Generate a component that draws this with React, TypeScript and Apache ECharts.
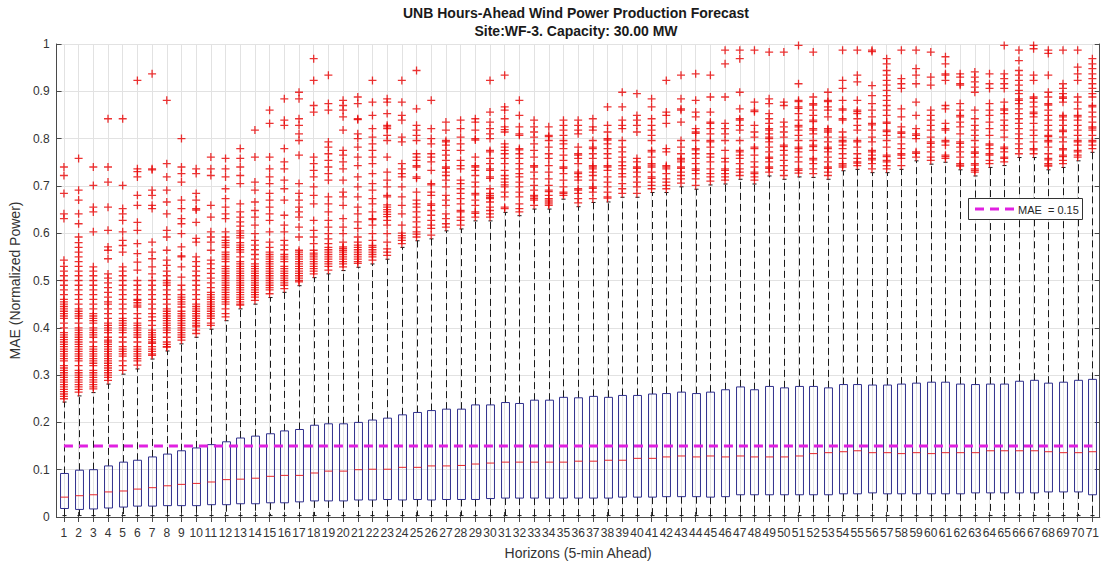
import React, { useEffect, useRef } from "react";
import * as echarts from "echarts";

const FONT = "'Liberation Sans', Arial, Helvetica, sans-serif";

const horizons: string[] = Array.from({ length: 71 }, (_, i) => String(i + 1));
const yTicks = [0, 0.1, 0.2, 0.3, 0.4, 0.5, 0.6, 0.7, 0.8, 0.9, 1];
const MAE_LEVEL = 0.15;

const q1 = [
  0.018, 0.016, 0.017, 0.019, 0.021, 0.023, 0.023, 0.024, 0.024, 0.024,
  0.026, 0.026, 0.028, 0.028, 0.030, 0.030, 0.032, 0.034, 0.034, 0.034,
  0.036, 0.036, 0.037, 0.036, 0.037, 0.036, 0.037, 0.037, 0.037, 0.039,
  0.040, 0.040, 0.040, 0.040, 0.040, 0.040, 0.040, 0.040, 0.042, 0.042,
  0.042, 0.043, 0.043, 0.043, 0.042, 0.043, 0.047, 0.047, 0.047, 0.047,
  0.047, 0.047, 0.047, 0.049, 0.049, 0.051, 0.049, 0.049, 0.049, 0.049,
  0.049, 0.049, 0.051, 0.051, 0.051, 0.051, 0.051, 0.053, 0.053, 0.053,
  0.047,
];
const median = [
  0.042, 0.045, 0.047, 0.053, 0.055, 0.059, 0.062, 0.066, 0.069, 0.071,
  0.074, 0.079, 0.080, 0.082, 0.086, 0.088, 0.088, 0.093, 0.097, 0.097,
  0.100, 0.101, 0.101, 0.105, 0.105, 0.108, 0.108, 0.109, 0.112, 0.114,
  0.116, 0.116, 0.116, 0.116, 0.116, 0.118, 0.118, 0.120, 0.120, 0.124,
  0.124, 0.127, 0.129, 0.127, 0.129, 0.127, 0.129, 0.127, 0.127, 0.127,
  0.129, 0.134, 0.136, 0.138, 0.140, 0.136, 0.136, 0.134, 0.136, 0.134,
  0.136, 0.136, 0.136, 0.140, 0.140, 0.140, 0.140, 0.138, 0.136, 0.136,
  0.138,
];
const q3 = [
  0.092, 0.099, 0.100, 0.108, 0.116, 0.120, 0.127, 0.133, 0.140, 0.146,
  0.153, 0.159, 0.167, 0.171, 0.176, 0.182, 0.185, 0.194, 0.197, 0.197,
  0.200, 0.205, 0.209, 0.216, 0.221, 0.225, 0.228, 0.228, 0.237, 0.237,
  0.242, 0.240, 0.247, 0.247, 0.253, 0.252, 0.255, 0.253, 0.257, 0.257,
  0.260, 0.261, 0.264, 0.261, 0.264, 0.269, 0.275, 0.269, 0.276, 0.273,
  0.276, 0.276, 0.273, 0.280, 0.280, 0.279, 0.279, 0.281, 0.283, 0.285,
  0.285, 0.281, 0.280, 0.281, 0.281, 0.287, 0.289, 0.283, 0.285, 0.289,
  0.291,
];
const lowerWhisker = [
  0.003, 0.003, 0.003, 0.003, 0.003, 0.003, 0.003, 0.003, 0.003, 0.003,
  0.003, 0.003, 0.003, 0.003, 0.003, 0.003, 0.003, 0.003, 0.003, 0.003,
  0.003, 0.003, 0.003, 0.003, 0.003, 0.003, 0.003, 0.003, 0.003, 0.003,
  0.003, 0.003, 0.003, 0.003, 0.003, 0.003, 0.003, 0.003, 0.003, 0.003,
  0.003, 0.003, 0.003, 0.003, 0.003, 0.003, 0.003, 0.003, 0.003, 0.003,
  0.003, 0.003, 0.003, 0.003, 0.003, 0.003, 0.003, 0.003, 0.003, 0.003,
  0.003, 0.003, 0.003, 0.003, 0.003, 0.003, 0.003, 0.003, 0.003, 0.003,
  0.003,
];
const upperWhisker = [
  0.243, 0.256, 0.263, 0.281, 0.302, 0.313, 0.334, 0.351, 0.366, 0.380,
  0.397, 0.415, 0.440, 0.450, 0.464, 0.475, 0.489, 0.506, 0.514, 0.521,
  0.528, 0.535, 0.545, 0.570, 0.584, 0.588, 0.605, 0.609, 0.626, 0.626,
  0.644, 0.637, 0.651, 0.651, 0.672, 0.656, 0.665, 0.666, 0.676, 0.676,
  0.686, 0.686, 0.698, 0.693, 0.702, 0.704, 0.714, 0.704, 0.721, 0.714,
  0.719, 0.718, 0.714, 0.732, 0.735, 0.728, 0.728, 0.735, 0.753, 0.746,
  0.750, 0.734, 0.721, 0.739, 0.743, 0.760, 0.760, 0.734, 0.739, 0.753,
  0.771,
];

// outliers per horizon, in hundredths of normalized power
const outliers: string[] = [
  "74 72.2 68.4 64.1 63.1 54.3 53 52 51 50 49 48 47 46 45.5 45 44.5 44 43.5 43 42.5 42 41 40 39 38.5 38 37.5 37 36.5 36 35.5 35 34.5 34 33.5 33 32 31.5 31 30.5 30 29.5 29 28.5 28 27.5 27 26.5 26 25.5 25",
  "75.8 69.1 67 64.1 62 59.2 58 57 56 55 54 53 52 51 50 49 48 47 46 45 44 43.5 43 42.5 42 41 40 39.5 39 38.5 38 37.5 37 36.5 36 35.5 35 34.5 34 33.5 33 32 31 30.5 30 29.5 29 28.5 28 27.5 27 26.4",
  "74 70.1 65.5 64.5 60.3 52.9 52 51 50 49 48 47 46 45 44 43 42.5 42 41.5 41 40 39.5 39 38.5 38 37 36 35.5 35 34.5 34 33.5 33 32.5 32 31 30.5 30 29.5 29 28.5 28 27.5 27.1",
  "84.2 74 70.8 65.5 60.6 57.1 56.4 54.6 51.4 50.5 49.5 48.5 47.5 46.5 45.5 45 44 43 42 41 40.5 40 39.5 39 38 37.4 37 36.5 36 35.5 35 34.5 34 33.5 33 32.5 32 31.5 31 30.5 30 29.5 28.9",
  "84.2 70.1 65.2 64.1 62.7 60.3 58.5 57.4 56 52.9 52 51 50 49 48 47 46 45 44 43 42 41.5 41 40.5 40 39.5 39 38 37 36 35.5 35 34.5 34 33 32 31",
  "92.3 73.6 73 71.9 68 65.9 62.3 60.6 57.8 55.7 53.9 52.2 50 49 48 47 46 45.8 45.3 44.8 44.4 43 42 41 40.5 40 39.5 39 38.5 38 37 36 35.5 35 34.5 34 33.5 33 32.1",
  "93.7 73.6 73.4 69.1 68 65.9 65.2 58.1 56 54.6 52.9 51.4 50 49 48 47 46 45 44 43 42.3 41.5 40.5 39.5 39 38.5 38 37.5 37 36.7 36 35.5 35 34.5 34.2",
  "88.1 74.7 71.9 69.1 66.6 64.1 60.6 59.2 56.4 54.3 53.2 52 51 50 49.5 49 48 47 46 45 44 43.5 43 42.5 42 41.5 41 40.5 40 39.5 39 38 37 36.5 36 35.9",
  "80 74 72.6 70.8 67 65.2 63.1 62 59.9 57.1 55.2 55 52.9 50.7 49 48 47 46.5 46 45.5 45 44.4 43.5 43 42.5 42 41.5 41 40.5 40 39.5 39 38.5 38 37.4",
  "73.6 72.6 68.4 67 65.2 64.9 62.3 58.9 58.1 55 54 53 52 51 50 49 48 47 46 45 44.5 44 43.5 43 42.5 42 41.5 41 40.5 40.2 39.5 38.8",
  "76.1 73.6 72.2 65.9 63.4 60.3 59.2 58.1 56.4 54.3 53.5 52.5 51.5 50.5 49.5 48.5 47.5 47 46.5 46 45.5 45 44.5 44 43.5 43 42.5 42 41 40.5",
  "75.8 73.6 71.9 69.4 67.3 65.5 64.1 63.1 60.3 59.2 58.5 58 57.5 57 56 55.5 55 54.5 54 53 52.5 52 51.5 51 50.5 50 49.5 49 48.5 48 47.5 47 46.5 46 45.5 45 44 43 42.3",
  "77.9 75.8 74 72.2 70.5 66.2 64.5 63.4 62.4 61.5 60.5 60 59.5 59 58 57.5 57 56.5 56 55 54 53.5 53 52.5 52 51.5 51 50.5 50 49.5 49 48.5 48 47.5 47 46.5 46 45.5 45 44.8",
  "81.8 76.1 70.8 69.1 66.6 64.8 63.4 61.7 59.9 58.5 57.5 56.5 55.5 54.5 53.5 53 52.5 52 51.5 51 50.5 50 49.5 49 48.5 48 47.5 47 46.5 45.8",
  "86 83.2 76.1 73.6 71.9 70.5 68.4 67 65.5 64.1 62.7 60.3 58.1 57 56 55.5 55 54.5 54 53.5 53 52.5 52 51.5 51 50.5 50 49.5 49 48.5 48 47.2",
  "88.4 83.9 82.8 77.9 75.1 73.6 71.2 69.4 67 63.8 61.7 60.3 58.5 57.5 56.5 55.5 55 54.5 54 53 52.5 52 51.5 51 50.5 50 49.5 49 48.3",
  "89.8 88.4 84.2 82.8 81 79.6 76.5 70.5 68.4 67 65.5 64.5 63.4 61.3 59.2 56.4 56 55.5 55 54.5 54 53.5 53 52.5 52 51.5 51 50.5 50 49.7",
  "96.9 92.3 87 85.6 76.1 74.7 73.3 71.9 69.8 68 66.2 62.7 60.6 59.2 57.8 56.4 55.8 55.4 55 54.5 54 53.5 53 52.5 52 51.4",
  "93.4 87.4 86 79.3 78.2 76.8 75.4 74 72.6 71.2 67.7 66.2 64.5 62.7 61.3 59.9 58.8 57.8 57 56.5 56 55.5 55 54.5 54 53.5 53 52.2",
  "88.1 87 86 84.6 81.8 77.5 76.5 75.1 73.6 71.2 68.7 67.7 65.9 63.1 61.3 59.9 58.1 57.1 56.8 56.4 56 55.5 55 54.5 54 53.5 52.9",
  "88.8 87.4 84.2 84 81 80 78.2 76.1 74.3 71.9 69.8 67.7 65.5 64.1 62.4 61 59.2 58.1 57.5 57 56.5 56 55.5 55 54.5 54 53.6",
  "92.3 87.7 84.9 82.1 80.3 78.9 77.5 76.1 74.7 72.6 70.5 69.1 67.3 66.2 64.5 63.1 62.9 61.7 59.9 58.5 57.4 57 56.5 56 55.5 55 54.3",
  "88.4 87.7 85.3 82.8 82.5 82.1 80.7 79.6 76.1 72.9 71.2 69.8 68 67.7 66 65.5 65 64.5 64 63.5 62.7 61.7 59.9 58.1 56.7 56 55.3",
  "92.3 87.7 84.9 83.9 80.3 79.3 74.7 73.6 72.6 71.9 69.8 67.7 65.9 64.1 61.7 60 59.5 59 58.5 57.8",
  "94.4 86.3 82.8 81.8 80.7 79.6 76.8 76.1 75.4 74.3 74 71.9 71.6 68.7 67 66.2 65.5 64.5 63.4 62.4 61.3 60.3 59.8 59.2",
  "88.1 82.1 80 78.9 76.8 76.1 75.1 73.3 70.5 70.2 68.7 68 66.2 65.9 64.8 63.8 62.7 61.7 61 59.6",
  "83.5 81.8 79.6 79.3 78.6 77.5 76.5 75.4 74 73.7 72.9 72.2 71.2 69.8 68 67 65.9 64.1 63.1 62 61.3",
  "83.9 82.1 80.3 78.9 77.5 75.4 74.3 73.6 71.2 70.5 69.4 68.4 67.3 66.2 64.8 64.5 63.4 62.7 61.7",
  "84.2 83.5 81.8 80 79.7 76.1 74.3 74 73.3 72.2 70.8 69.8 68.4 68.1 67 65.9 64.5 64.2 63.4",
  "92.3 85.6 83.5 82.1 81 80 77.5 77.2 75.8 74.7 73.6 73.3 71.9 71.6 69.4 68.4 68 67.6 67.3 66.6 65.5 64.8 64.1 63.4",
  "93.4 86.7 86 84.2 82.5 81.9 81.4 78.9 78.2 77.5 76.8 75.8 74.7 73.3 72.2 71.5 70.8 70.2 69.8 68.7 67.7 65.5 65.2",
  "88.1 84.9 82.5 81 80.7 77.9 77.6 76.8 75.8 74.7 73.6 72.6 71.9 70.8 69.8 68.7 67.7 66.2 65.2 64.5",
  "83.9 82.5 81.4 80.3 78.9 77.5 76.1 74.3 74 72.9 71.5 70.1 69.1 68 67.7 67.3 67 65.9",
  "82.5 80.7 80.4 79.6 78.2 76.8 75.8 74.3 72.9 71.5 70.1 69.1 68.8 68 67.3 67 66.6 66.2 65.9",
  "83.9 82.8 81.8 80.7 79.6 78.9 77.9 76.5 75.4 74 73.7 72.6 71.2 69.8 68.7 68.4 68",
  "83.9 82.8 81.8 81 78.2 76.8 76.5 75.8 74.7 72.9 72.6 71.9 71.2 69.4 69.1 68.4 67.3 66.4",
  "84.2 82.5 81.8 79.6 78.2 77.9 76.8 75.8 74.3 74 73.6 72.9 72.2 71.2 69.8 69.5 68.7 67.3",
  "86.7 82.8 81.4 80 79.7 78.9 77.9 76.8 75.8 74.3 74 73.3 71.9 70.8 69.8 68.7 67.7 67.4",
  "89.8 86.7 83.9 82.8 82.1 79.6 78.2 77.2 76.1 75.1 74.3 73.6 72.6 71.9 70.5 69.4 68.4",
  "89.5 84.9 83.9 82.8 81.4 75.8 75.1 74 73.7 72.9 71.9 70.8 69.8 68.4",
  "88.4 86.7 84.2 82.8 81.8 80.7 79.6 77.5 77.2 76.1 74.7 74.4 74 72.9 71.9 71.6 70.8 70.1 69.4",
  "92.3 85.6 84.9 83.2 77.9 77.2 74.3 74 73.6 72.6 71.5 70.8 70.1 69.4",
  "93.4 88.4 86.3 86 83.5 79.6 78.2 76.8 75.8 75.5 75.1 74 73.7 72.9 72.2 71.5 70.6",
  "93.7 88.1 85.6 84.6 82.1 81.4 81.1 79.6 77.9 77.6 76.8 75.8 74.7 73.6 73.3 72.6 71.5 70.1",
  "93.4 88.8 85.6 83.5 83.2 82.1 81 79.6 79.3 78.2 76.8 76.1 75.1 73.6 72.6 71.9 71",
  "98.7 95.8 88.8 83.2 82.1 81 79.6 77.5 75.8 75.1 73.6 73.3 72.6 71.9 71.2",
  "98.7 96.9 89.8 86.3 84.2 83.9 82.8 81.8 79.6 77.5 77.2 76.5 75.8 74.7 73.6 72.9 72.2",
  "98.7 87.7 86 85.7 82.8 81.4 80.3 78.2 77.9 76.5 75.1 74 72.9 72.6 71.9 71.2",
  "98.3 88.4 87.4 85.3 84.2 83.2 82.1 81.8 81 80.3 80 79.3 78.2 77.2 76.1 75.8 75.1 74 73.7 72.9",
  "98.3 87.7 87 83.5 82.5 81.4 80.3 78.6 78.3 77.5 76.5 75.4 74.3 73.3 72.2",
  "99.7 91.6 88.1 87.8 86.7 86.4 85.3 83.9 82.8 82.5 81.8 80.7 79.6 78.2 77.9 77.2 76.1 75.1 73.6 73.3 72.7",
  "98.3 88.8 87.4 87.1 86 84.9 83.9 83.6 82.1 81.8 81 79.6 78.6 78.3 77.5 75.8 75.5 74.7 73.6 72.6",
  "89.8 88.1 87.8 86.7 86 84.6 82.1 81.8 81.4 80.3 79.3 78.2 77.9 77.2 76.1 75.1 74 73.7 72.9 72.2",
  "98.7 92.3 90.6 88.1 86.3 86 84.2 83.9 81.4 80.3 79.6 79.3 78.6 77.9 76.8 75.8 74.7 74.4 74",
  "98.7 93.4 92 88.1 86 85.7 85.3 84.2 82.8 81.8 79.6 79.3 78.2 76.8 75.8 75.1 74.8 74.3",
  "98.7 98.4 91.2 89.1 87.4 86 84.6 83.2 82.9 81.8 80.3 79.3 77.5 77.2 76.5 75.8 75.5 74.7 73.6",
  "96.9 95.8 94.4 93.4 92.3 91.3 90.2 89.1 88.1 87 86 84.9 83.5 83.2 81.8 81.5 80.7 79.6 78.2 76.5 76.2 75.4 75.1 74.3 73.6",
  "98.7 92.7 91.6 90.6 86.3 84.6 82.5 81.4 81.1 80.3 78.9 77.9 76.8 76.5 75.8 74.3",
  "98.7 94.8 93.4 91.6 87.7 84.9 82.1 81 80.7 80 77.2 76.9 76.1",
  "98.3 93 91.3 86 84.9 83.9 82.8 81.8 80.3 79.3 79 78.2 77.2 76.1 75.4",
  "97.3 95.8 93.7 93.4 92.3 87 86.3 83.2 82.1 81.8 79.6 79.3 78.6 76.5 76.2 75.8",
  "93.7 93 91.6 91.3 87.4 86 84.9 84.6 83.5 82.5 81 79.3 79 78.2 77.2 76.1 74.7 74.4 74.2",
  "94.1 93 92 90.9 89.8 86 84.2 82.8 81.8 80.7 79.6 78.2 77.2 76.9 76.1 74.7 74.4 73.6 73.3 72.9",
  "93.7 91.6 90.6 87.4 86 84.9 83.5 82.1 80.7 78.9 78.6 77.9 76.8 76.5 75.4 74.7",
  "99.7 93.7 92.7 91.6 90.6 87.7 86.3 86 85.3 83.9 82.8 81.8 80.3 78.2 77.9 77.2 76.1 75.8 75.1",
  "98.7 96.5 94.4 93.4 92.3 91.3 90.2 89.5 88.4 88.1 87.4 86.3 85.3 84.2 83.2 82.1 81 80 78.9 77.9 76.8",
  "99.7 99 93.4 92.3 88.8 88.5 87.7 86.7 85.6 85.3 84.6 83.2 81.8 80.7 79.3 77.9 77.6 76.8",
  "98.7 98 93.4 89.8 88.8 87.4 87.1 86 84.9 83.9 82.8 81.8 80.7 80.4 79.6 79.3 78.2 76.8 75.8 75.5 74.7 74.4 74.2",
  "98.7 91.6 90.6 89.5 88.8 88.5 87.7 84.9 84.6 83.9 82.8 81.8 81.5 80.3 79.3 77.9 77.6 76.5 76.2 75.4 74.7",
  "98.7 95.1 93.7 92.3 88.8 87.7 86.3 84.9 84.6 83.9 82.8 81.8 80.7 79.6 79.3 78.6 77.5 77.2 76.5 76.1",
  "96.9 95.8 94.8 93.7 92.7 91.6 90.6 89.5 88.8 87 86.7 85.6 84.6 83.5 82.5 82.2 81.8 80.7 79.6 79.3 78.6 77.9",
];

const AXIS_COLOR = "#4a4a4a";
const TEXT_COLOR = "#333333";
const GRID_COLOR = "#e2e2e2";

export default function App() {
  const ref = useRef<HTMLDivElement>(null);

  useEffect(() => {
    if (!ref.current) return;
    const chart = echarts.init(ref.current, null, { renderer: "svg" });

    const boxData = horizons.map((_, i) => [i, lowerWhisker[i], q1[i], median[i], q3[i], upperWhisker[i]]);
    const outlierData: number[][] = [];
    outliers.forEach((s, i) => {
      s.trim().split(/\s+/).forEach((t) => outlierData.push([i, parseFloat(t) / 100]));
    });

    const option: any = {
      animation: false,
      backgroundColor: "#ffffff",
      grid: { left: 52, right: 1, top: 44, bottom: 49, containLabel: false },
      xAxis: [
        {
          type: "category",
          data: horizons,
          position: "bottom",
          boundaryGap: true,
          axisLine: { show: true, lineStyle: { color: AXIS_COLOR, width: 1 } },
          axisTick: { show: true, inside: true, alignWithLabel: true, length: 5, lineStyle: { color: AXIS_COLOR } },
          axisLabel: { interval: 0, fontSize: 12, color: TEXT_COLOR, fontFamily: FONT, margin: 10 },
          splitLine: { show: true, alignWithLabel: true, interval: 0, lineStyle: { color: GRID_COLOR, width: 1 } },
          name: "Horizons (5-min Ahead)",
          nameLocation: "middle",
          nameGap: 29,
          nameTextStyle: { fontSize: 14, color: TEXT_COLOR, fontFamily: FONT },
        },
        {
          type: "category",
          data: horizons,
          position: "top",
          boundaryGap: true,
          axisLine: { show: true, lineStyle: { color: AXIS_COLOR, width: 1 } },
          axisTick: { show: true, inside: true, alignWithLabel: true, interval: 0, length: 5, lineStyle: { color: AXIS_COLOR } },
          axisLabel: { show: false },
          splitLine: { show: false },
        },
      ],
      yAxis: [
        {
          type: "value",
          min: yTicks[0],
          max: yTicks[yTicks.length - 1],
          interval: 0.1,
          position: "left",
          axisLine: { show: true, lineStyle: { color: AXIS_COLOR, width: 1 } },
          axisTick: { show: true, inside: true, length: 5, lineStyle: { color: AXIS_COLOR } },
          axisLabel: { fontSize: 12, color: TEXT_COLOR, fontFamily: FONT, margin: 7 },
          splitLine: { show: true, lineStyle: { color: GRID_COLOR, width: 1 } },
          name: "MAE (Normalized Power)",
          nameLocation: "middle",
          nameGap: 27,
          nameRotate: 90,
          nameTextStyle: { fontSize: 14, color: TEXT_COLOR, fontFamily: FONT },
        },
        {
          type: "value",
          min: yTicks[0],
          max: yTicks[yTicks.length - 1],
          interval: 0.1,
          position: "right",
          axisLine: { show: true, lineStyle: { color: AXIS_COLOR, width: 1 } },
          axisTick: { show: true, inside: true, length: 5, lineStyle: { color: AXIS_COLOR } },
          axisLabel: { show: false },
          splitLine: { show: false },
        },
      ],
      series: [
        {
          type: "custom",
          name: "box",
          xAxisIndex: 0,
          yAxisIndex: 0,
          data: boxData,
          encode: { x: 0, y: [1, 2, 3, 4, 5] },
          z: 3,
          silent: true,
          renderItem: (params: any, api: any) => {
            const xi = api.value(0);
            const pLo = api.coord([xi, api.value(1)]);
            const pQ1 = api.coord([xi, api.value(2)]);
            const pMd = api.coord([xi, api.value(3)]);
            const pQ3 = api.coord([xi, api.value(4)]);
            const pHi = api.coord([xi, api.value(5)]);
            const band = api.size([1, 0])[0];
            const hw = band * 0.27;
            const cw = band * 0.14;
            const cx = Math.round(pQ1[0]) + 0.5;
            const dashStyle = { stroke: "#1a1a1a", lineWidth: 1, lineDash: [7, 4], fill: "none" };
            const solid = { stroke: "#1a1a1a", lineWidth: 1, fill: "none" };
            return {
              type: "group",
              children: [
                { type: "line", shape: { x1: cx, y1: pQ3[1], x2: cx, y2: pHi[1] }, style: dashStyle },
                { type: "line", shape: { x1: cx, y1: pQ1[1], x2: cx, y2: pLo[1] }, style: dashStyle },
                { type: "line", shape: { x1: cx - cw, y1: pHi[1], x2: cx + cw, y2: pHi[1] }, style: solid },
                { type: "line", shape: { x1: cx - cw, y1: pLo[1], x2: cx + cw, y2: pLo[1] }, style: solid },
                {
                  type: "rect",
                  shape: { x: cx - hw, y: pQ3[1], width: hw * 2, height: pQ1[1] - pQ3[1] },
                  style: { fill: "none", stroke: "#2f2f8c", lineWidth: 1 },
                },
                {
                  type: "line",
                  shape: { x1: cx - hw, y1: pMd[1], x2: cx + hw, y2: pMd[1] },
                  style: { stroke: "#e8262b", lineWidth: 1 },
                },
              ],
            };
          },
        },
        {
          type: "scatter",
          name: "outliers",
          xAxisIndex: 0,
          yAxisIndex: 0,
          data: outlierData,
          symbol: "path://M0,5L10,5M5,0L5,10",
          symbolSize: 8,
          itemStyle: { color: "rgba(0,0,0,0)", borderColor: "#e80000", borderWidth: 1.3 },
          silent: true,
          z: 4,
        },
        {
          type: "line",
          name: "MAE  = 0.15",
          xAxisIndex: 0,
          yAxisIndex: 0,
          data: [
            [0, MAE_LEVEL],
            [horizons.length - 1, MAE_LEVEL],
          ],
          symbol: "none",
          lineStyle: { color: "#e020e0", width: 3, type: [9, 6] },
          silent: true,
          z: 5,
        },
      ],
      graphic: [
        {
          type: "text",
          x: 576,
          y: 13,
          z: 100,
          style: {
            text: "UNB Hours-Ahead Wind Power Production Forecast",
            fontSize: 14,
            fontWeight: "bold",
            fontFamily: FONT,
            fill: "#1a1a1a",
            align: "center",
            verticalAlign: "middle",
          },
        },
        {
          type: "text",
          x: 576,
          y: 31,
          z: 100,
          style: {
            text: "Site:WF-3. Capacity: 30.00 MW",
            fontSize: 14,
            fontWeight: "bold",
            fontFamily: FONT,
            fill: "#1a1a1a",
            align: "center",
            verticalAlign: "middle",
          },
        },
        {
          type: "rect",
          z: 100,
          shape: { x: 968.5, y: 198.5, width: 114, height: 21 },
          style: { fill: "#ffffff", stroke: "#333333", lineWidth: 1 },
        },
        {
          type: "line",
          z: 101,
          shape: { x1: 975, y1: 209, x2: 1014, y2: 209 },
          style: { stroke: "#e020e0", lineWidth: 3, lineDash: [9, 6] },
        },
        {
          type: "text",
          z: 101,
          x: 1018,
          y: 209.5,
          style: {
            text: "MAE  = 0.15",
            fontSize: 11,
            fontFamily: FONT,
            fill: "#262626",
            verticalAlign: "middle",
          },
        },
      ],
    };

    chart.setOption(option);
    return () => chart.dispose();
  }, []);

  return (
    <div
      ref={ref}
      style={{ position: "absolute", left: 0, top: 0, width: 1102, height: 566, background: "#ffffff" }}
    />
  );
}
